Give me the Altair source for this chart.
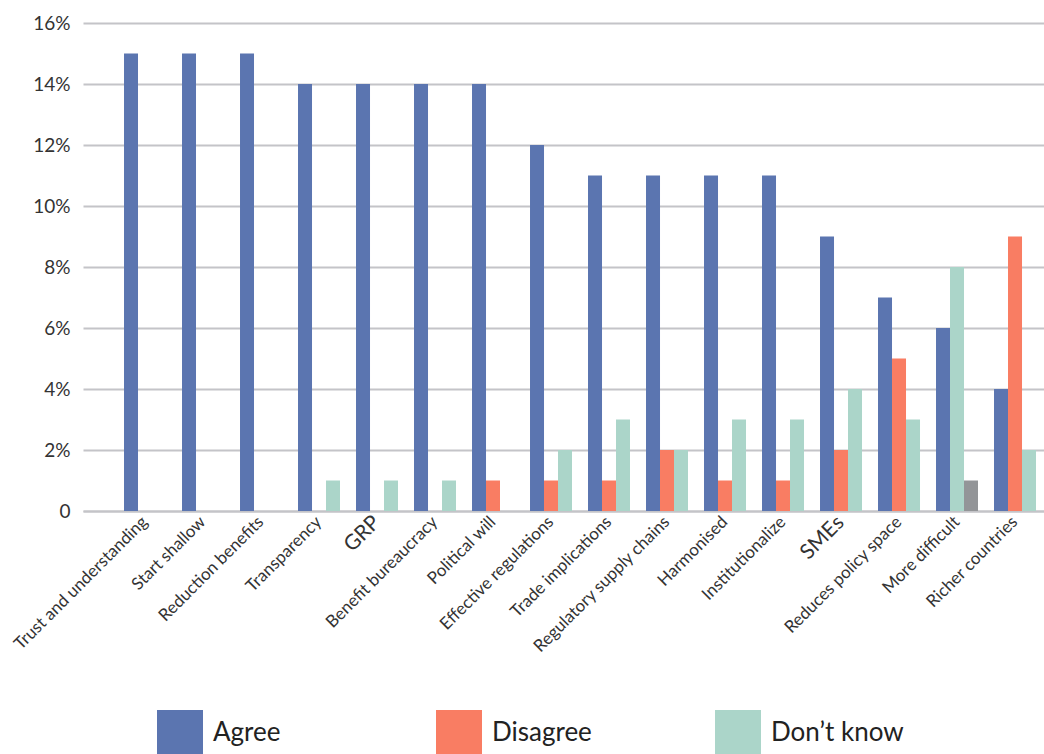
import altair as alt
import pandas as pd

categories = [
    "Trust and understanding", "Start shallow", "Reduction benefits", "Transparency",
    "GRP", "Benefit bureaucracy", "Political will", "Effective regulations",
    "Trade implications", "Regulatory supply chains", "Harmonised", "Institutionalize",
    "SMEs", "Reduces policy space", "More difficult", "Richer countries",
]
series = ["Agree", "Disagree", "Don’t know"]
agree = [15, 15, 15, 14, 14, 14, 14, 12, 11, 11, 11, 11, 9, 7, 6, 4]
disagree = [0, 0, 0, 0, 0, 0, 1, 1, 1, 2, 1, 1, 2, 5, 8, 9]
dont_know = [0, 0, 0, 1, 1, 1, 0, 2, 3, 2, 3, 3, 4, 3, 1, 2]
# points whose fill differs from their series in the original chart
colour_override = {
    ("More difficult", "Disagree"): "Don’t know",
    ("More difficult", "Don’t know"): "Other",
}
colour_keys = ["Agree", "Disagree", "Don’t know", "Other"]
colour_values = ["#5B75B0", "#F97D63", "#ABD5C9", "#939598"]

rows = []
for s, vals in zip(series, [agree, disagree, dont_know]):
    for c, v in zip(categories, vals):
        if v > 0:
            rows.append({"category": c, "series": s, "value": v,
                         "colour": colour_override.get((c, s), s)})
df = pd.DataFrame(rows)

x_scale = alt.Scale(domain=categories, paddingInner=0.2759, paddingOuter=0.4224, align=0.837)

chart = alt.Chart(df).mark_bar().encode(
    x=alt.X("category:N", scale=x_scale, sort=categories, title=None,
            axis=alt.Axis(labelAngle=-45, labelAlign="right", labelBaseline="middle",
                          labelFont="Lato", labelColor="#333333",
                          labelFontSize={"condition": {"test": "datum.value == 'GRP' || datum.value == 'SMEs'", "value": 21}, "value": 17},
                          labelPadding=8, ticks=False, domainColor="#C4C4C8", domainWidth=2,
                          labelOverlap=False, labelLimit=400)),
    xOffset=alt.XOffset("series:N", sort=series, scale=alt.Scale(domain=series, paddingInner=0, paddingOuter=0)),
    y=alt.Y("value:Q", scale=alt.Scale(domain=[0, 16], nice=False), title=None,
            axis=alt.Axis(values=[0, 2, 4, 6, 8, 10, 12, 14, 16],
                          labelExpr="datum.value == 0 ? '0' : datum.value + '%'",
                          labelFont="Lato", labelFontSize=19, labelColor="#333333",
                          labelPadding=13, ticks=False, domain=False,
                          gridColor="#C4C4C8", gridWidth=2)),
    color=alt.Color("colour:N", scale=alt.Scale(domain=colour_keys, range=colour_values),
                    legend=alt.Legend(values=series, title=None, orient="none",
                                      legendX=74, legendY=687, direction="horizontal",
                                      columns=3, gridAlign="all", columnPadding=90,
                                      symbolType="square", symbolSize=2116,
                                      symbolStrokeWidth=0, labelFont="Lato",
                                      labelFontSize=26, labelColor="#222222",
                                      labelOffset=10, padding=0)),
).properties(
    width=961, height=488,
    autosize=alt.AutoSizeParams(type="none"),
    padding={"left": 83, "top": 23, "right": 0, "bottom": 243},
).configure_view(stroke=None)

chart.save("out.html", embed_options={"renderer": "svg", "actions": False})
